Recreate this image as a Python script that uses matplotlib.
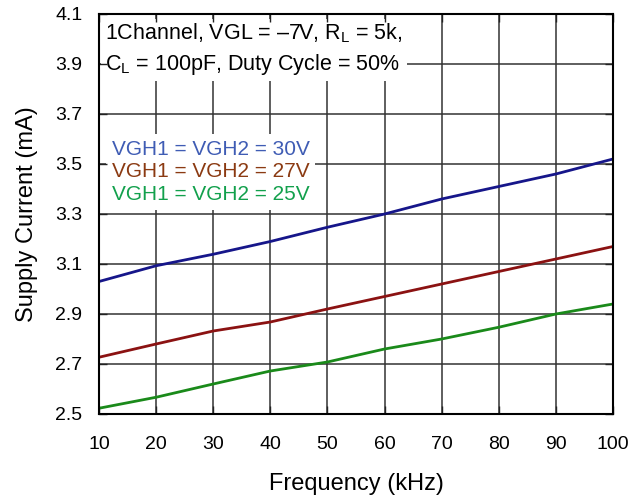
import matplotlib
matplotlib.use("Agg")
import matplotlib.pyplot as plt

plt.rcParams['font.family'] = ['Liberation Sans', 'DejaVu Sans']
plt.rcParams['mathtext.fontset'] = 'custom'
plt.rcParams['mathtext.rm'] = 'Liberation Sans'
plt.rcParams['mathtext.it'] = 'Liberation Sans'

freq = [10, 20, 30, 40, 50, 60, 70, 80, 90, 100]
i_30v = [3.03, 3.093, 3.139, 3.19, 3.247, 3.30, 3.36, 3.41, 3.46, 3.52]
i_27v = [2.727, 2.78, 2.832, 2.868, 2.92, 2.97, 3.02, 3.07, 3.12, 3.17]
i_25v = [2.523, 2.567, 2.62, 2.672, 2.708, 2.76, 2.80, 2.847, 2.90, 2.94]
labels = ["VGH1 = VGH2 = 30V", "VGH1 = VGH2 = 27V", "VGH1 = VGH2 = 25V"]
xticks = [10, 20, 30, 40, 50, 60, 70, 80, 90, 100]
yticks = [2.5, 2.7, 2.9, 3.1, 3.3, 3.5, 3.7, 3.9, 4.1]

line_colors = ['#16168a', '#8b1212', '#1a8a1a']
text_colors = ['#3f5cb4', '#8b3a12', '#12a04c']

fig = plt.figure(figsize=(6.32, 4.97), dpi=100)
ax = fig.add_axes([99/632, 1-414/497, (613-99)/632, (414-14)/497])
ax.set_xlim(10, 100)
ax.set_ylim(2.5, 4.1)
ax.set_axisbelow(False)

for x in xticks:
    ax.axvline(x, color='#333333', lw=1.1, zorder=1)
for y in yticks:
    ax.axhline(y, color='#333333', lw=1.1, zorder=1)

for vals, c in zip([i_30v, i_27v, i_25v], line_colors):
    ax.plot(freq, vals, color=c, lw=2.0, zorder=3, solid_capstyle='butt')

ax.set_xticks(xticks)
ax.set_yticks(yticks)
ax.set_xticklabels([str(v) for v in xticks])
ax.set_yticklabels([f"{v:.1f}" for v in yticks])
ax.tick_params(direction='in', length=6, width=1, color='#222222', labelsize=14,
               top=True, right=True)
ax.tick_params(axis='y', pad=12)
ax.tick_params(axis='x', pad=16)
for s in ax.spines.values():
    s.set_linewidth(1.5)
    s.set_zorder(5)

ax.set_xlabel("Frequency (kHz)", fontsize=17, labelpad=14)
ax.set_ylabel("Supply Current (mA)", fontsize=17, labelpad=12)

ax.text(0.012, 0.982, "1Channel, VGL = \u20137V, R$_\\mathregular{L}$ = 5k,\nC$_\\mathregular{L}$ = 100pF, Duty Cycle = 50%",
        transform=ax.transAxes, fontsize=15.5, va='top', ha='left', linespacing=1.4,
        zorder=2, bbox=dict(facecolor='white', edgecolor='none', pad=3))

ys = [0.662, 0.606, 0.548]
for lab, c, yy in zip(labels, text_colors, ys):
    ax.text(0.025, yy, lab, transform=ax.transAxes, fontsize=15, color=c,
            va='center', ha='left', zorder=2,
            bbox=dict(facecolor='white', edgecolor='none', pad=4))

fig.savefig("out.png", dpi=100)
